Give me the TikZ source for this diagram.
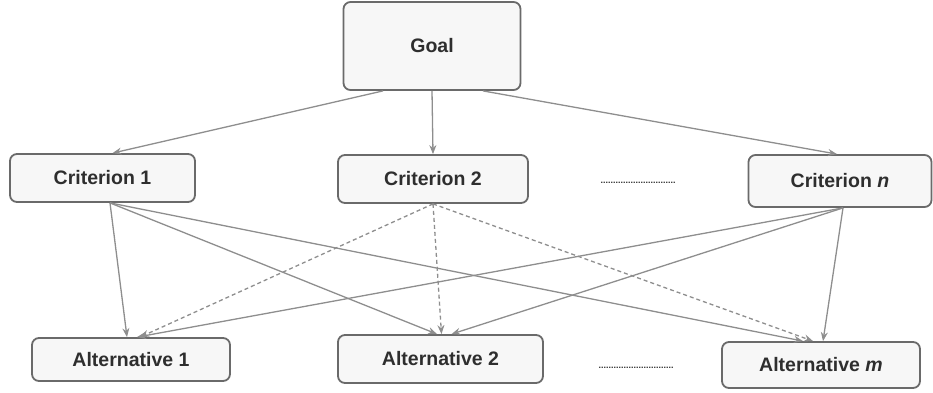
\documentclass[tikz,border=0pt]{standalone}
\usepackage{fontspec}
\setmainfont{Liberation Sans}
\usepackage{xcolor}
\usetikzlibrary{arrows.meta, positioning, calc}

\definecolor{boxfill}{HTML}{F7F7F7}
\definecolor{boxline}{HTML}{6A6A6A}
\definecolor{linkgray}{HTML}{8E8E8E}
\definecolor{txtgray}{HTML}{2E2E2E}

\tikzset{
  levelbox/.style={draw=boxline, line width=1.8pt, fill=boxfill, rounded corners=7pt,
    text=txtgray, font=\fontsize{19.5}{22}\selectfont\bfseries, inner sep=0pt},
  link/.style={draw=linkgray, line width=1.3pt, -{Stealth[length=9pt,width=7pt]}},
  dashlink/.style={link, dash pattern=on 4pt off 3pt},
  gap/.style={text=txtgray, font=\fontsize{9}{9}\selectfont\bfseries, inner sep=0pt}
}

\begin{document}
\begin{tikzpicture}[x=1pt, y=-1pt]
\useasboundingbox (0,0) rectangle (933,392);
% Goal
\node[levelbox, minimum width=177pt, minimum height=88pt] (goal) at (432,46) {Goal};

% Criteria
\node[levelbox, minimum width=185pt, minimum height=48pt] (crit1) at (102.5,178) {Criterion 1};
\node[levelbox, minimum width=190pt, minimum height=48pt] (crit2) at (433,179) {Criterion 2};
\node[gap] (critdots) at (638,183) {..............................};
\node[levelbox, minimum width=183pt, minimum height=52pt] (critn) at (840,181) {Criterion \textit{n}};

% Alternatives
\node[levelbox, minimum width=198pt, minimum height=43pt] (alt1) at (131,359.5) {Alternative 1};
\node[levelbox, minimum width=205pt, minimum height=48pt] (alt2) at (440.5,359) {Alternative 2};
\node[gap] (altdots) at (636,368) {..............................};
\node[levelbox, minimum width=198pt, minimum height=46pt] (altm) at (821,365) {Alternative \textit{m}};

% Goal to criteria
\draw[link] ([xshift=-49pt]goal.south) -- ([xshift=10pt]crit1.north);
\draw[link] (goal.south) -- (crit2.north);
\draw[link] ([xshift=51pt]goal.south) -- ([xshift=-3pt]critn.north);

% Criterion 1 to alternatives
\draw[link] ([xshift=7.5pt]crit1.south) -- ([xshift=-4pt]alt1.north);
\draw[link] ([xshift=7.5pt]crit1.south) -- ([xshift=-3.5pt]alt2.north);
\draw[link] ([xshift=7.5pt]crit1.south) -- ([xshift=-18pt]altm.north);

% Criterion 2 to alternatives
\draw[dashlink] (crit2.south) -- ([xshift=9pt]alt1.north);
\draw[dashlink] (crit2.south) -- ([xshift=1pt]alt2.north);
\draw[dashlink] (crit2.south) -- ([xshift=-8pt]altm.north);

% Criterion n to alternatives
\draw[link] ([xshift=3pt]critn.south) -- ([xshift=6pt]alt1.north);
\draw[link] ([xshift=3pt]critn.south) -- ([xshift=11pt]alt2.north);
\draw[link] ([xshift=3pt]critn.south) -- ([xshift=2pt]altm.north);
\end{tikzpicture}
\end{document}
